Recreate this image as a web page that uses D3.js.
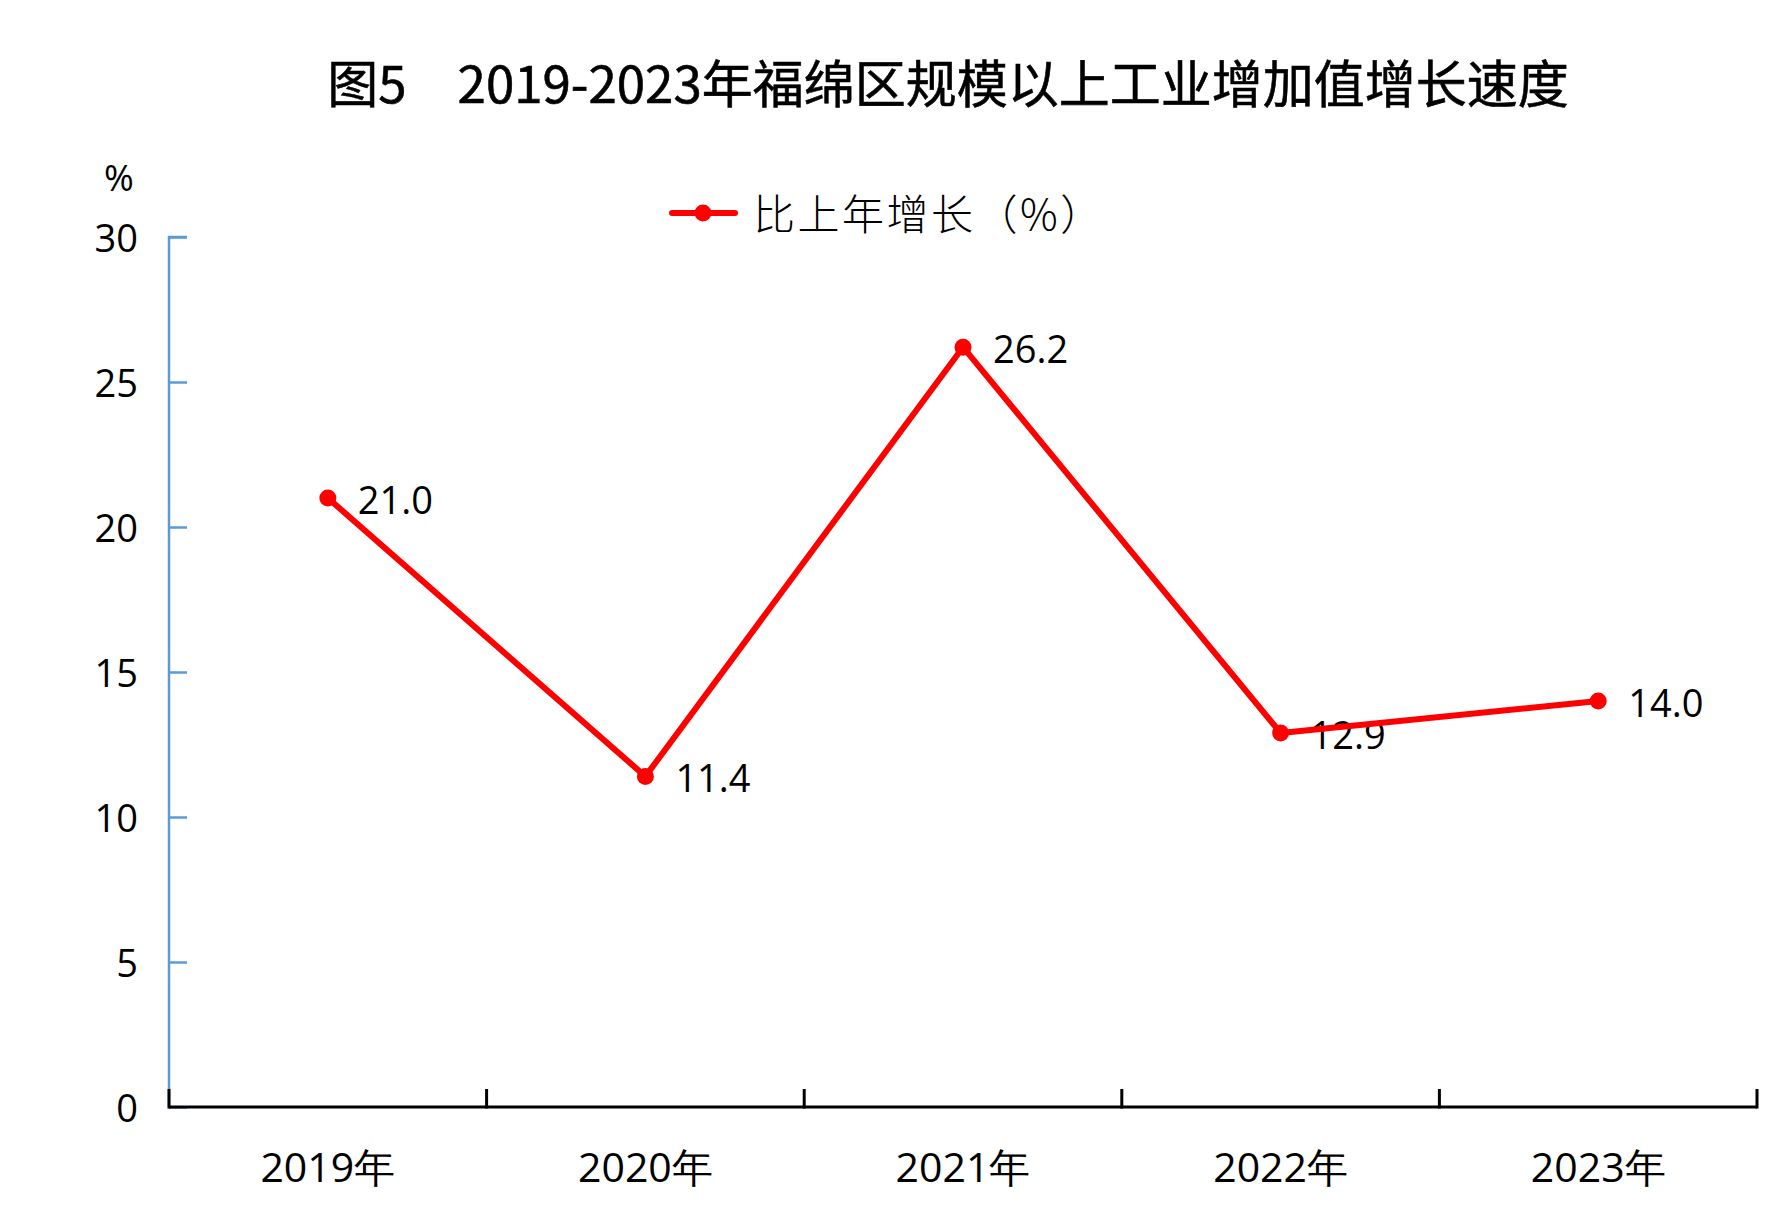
<!DOCTYPE html>
<html>
<head>
<meta charset="utf-8">
<script src="https://cdn.jsdelivr.net/npm/d3@7"></script>
<style>
    body { margin: 0; background: #fff; }
    svg { display: block; }
</style>
</head>
<body>
<div id="chart"></div>
<script>
// Chart data
const years = ['2019年', '2020年', '2021年', '2022年', '2023年'];
const growth = [21.0, 11.4, 26.2, 12.9, 14.0];
const yTicks = [0, 5, 10, 15, 20, 25, 30];
const seriesName = '比上年增长（%）';
const chartTitle = '图5\u30002019-2023年福绵区规模以上工业增加值增长速度';

const width = 1790;
const height = 1220;
const margin = { top: 237, right: 33, bottom: 113, left: 169 };
const numFont = '"Open Sans", "Noto Sans", sans-serif';
const cjkFont = '"Noto Sans CJK SC", "Open Sans", sans-serif';

const svg = d3.select('#chart')
    .append('svg')
    .attr('width', width)
    .attr('height', height);

const xScale = d3.scaleBand()
    .domain(years)
    .range([margin.left, width - margin.right]);

const yScale = d3.scaleLinear()
    .domain([0, 30])
    .range([height - margin.bottom, margin.top]);

// Title
svg.append('text')
    .attr('x', 948)
    .attr('y', 81)
    .attr('text-anchor', 'middle')
    .attr('dominant-baseline', 'central')
    .style('font-family', cjkFont)
    .style('font-size', '51px')
    .style('font-weight', 400)
    .style('stroke', '#000')
    .style('stroke-width', 0.6)
    .text(chartTitle);

// Y axis (blue, ticks pointing inward)
const yAxis = svg.append('g')
    .attr('transform', `translate(${margin.left},0)`)
    .call(d3.axisRight(yScale).tickValues(yTicks).tickSize(18).tickFormat(''));
yAxis.select('.domain')
    .attr('d', `M18,${yScale(30)}H0V${yScale(0)}`)
    .style('stroke', '#5b9bd5')
    .style('stroke-width', 2.5);
yAxis.selectAll('.tick line')
    .style('stroke', '#5b9bd5')
    .style('stroke-width', 2.5);

// Y tick labels
svg.selectAll('.y-label')
    .data(yTicks)
    .enter()
    .append('text')
    .attr('class', 'y-label')
    .attr('x', 138)
    .attr('y', d => yScale(d))
    .attr('text-anchor', 'end')
    .attr('dominant-baseline', 'central')
    .style('font-family', numFont)
    .style('font-size', '38px')
    .text(d => d);

// Unit label
svg.append('text')
    .attr('x', 119)
    .attr('y', 177)
    .attr('text-anchor', 'middle')
    .attr('dominant-baseline', 'central')
    .style('font-family', numFont)
    .style('font-size', '36px')
    .text('%');

// X axis (black, ticks at band boundaries pointing up)
const xAxis = svg.append('g')
    .attr('transform', `translate(0,${yScale(0)})`);
xAxis.append('line')
    .attr('x1', xScale.range()[0])
    .attr('x2', xScale.range()[1])
    .style('stroke', '#000')
    .style('stroke-width', 3);
const boundaries = years.map(d => xScale(d)).concat([xScale.range()[1]]);
xAxis.selectAll('.x-tick')
    .data(boundaries)
    .enter()
    .append('line')
    .attr('class', 'x-tick')
    .attr('x1', d => d)
    .attr('x2', d => d)
    .attr('y1', 1.5)
    .attr('y2', -18)
    .style('stroke', '#000')
    .style('stroke-width', 3);

// X tick labels
svg.selectAll('.x-label')
    .data(years)
    .enter()
    .append('text')
    .attr('class', 'x-label')
    .attr('x', d => xScale(d) + xScale.bandwidth() / 2)
    .attr('y', 1166)
    .attr('text-anchor', 'middle')
    .attr('dominant-baseline', 'central')
    .style('font-family', numFont)
    .style('font-size', '41px')
    .text(d => d);

const points = years.map((d, i) => ({ year: d, value: growth[i] }));
const cx = d => xScale(d.year) + xScale.bandwidth() / 2;

// Data labels (drawn below the line)
svg.selectAll('.value-label')
    .data(points)
    .enter()
    .append('text')
    .attr('class', 'value-label')
    .attr('x', d => cx(d) + 30)
    .attr('y', d => yScale(d.value) + 1)
    .attr('dominant-baseline', 'central')
    .style('font-family', numFont)
    .style('font-size', '38px')
    .text(d => d.value.toFixed(1));

// Line
const line = d3.line()
    .x(cx)
    .y(d => yScale(d.value));

svg.append('path')
    .datum(points)
    .attr('d', line)
    .attr('fill', 'none')
    .style('stroke', '#ff0000')
    .style('stroke-width', 6)
    .style('stroke-linejoin', 'round');

svg.selectAll('.marker')
    .data(points)
    .enter()
    .append('circle')
    .attr('class', 'marker')
    .attr('cx', cx)
    .attr('cy', d => yScale(d.value))
    .attr('r', 8.5)
    .attr('fill', '#ff0000');

// Legend
const legend = svg.append('g')
    .attr('transform', 'translate(672,213)');
legend.append('line')
    .attr('x1', 0)
    .attr('x2', 63)
    .style('stroke', '#ff0000')
    .style('stroke-width', 6)
    .style('stroke-linecap', 'round');
legend.append('circle')
    .attr('cx', 31)
    .attr('r', 8.5)
    .attr('fill', '#ff0000');
legend.append('text')
    .attr('x', 81)
    .attr('y', -2)
    .attr('dominant-baseline', 'central')
    .style('font-family', cjkFont)
    .style('font-size', '42px')
    .style('font-weight', 300)
    .style('letter-spacing', '2.5px')
    .text(seriesName);
</script>
</body>
</html>
